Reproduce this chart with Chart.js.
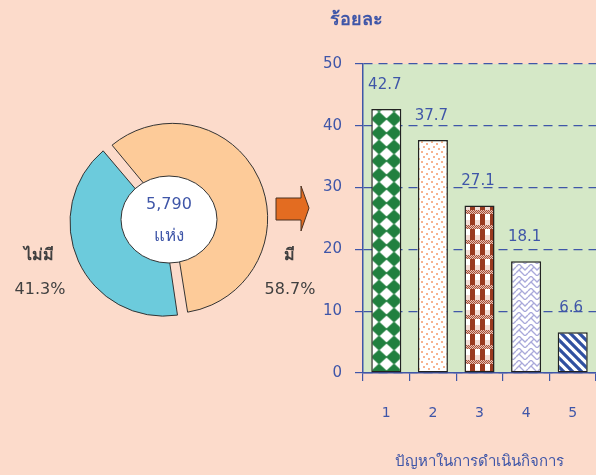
<!DOCTYPE html>
<html>
<head>
<meta charset="utf-8">
<script src="https://cdn.jsdelivr.net/npm/chart.js@4"></script>
<style>
  html, body { margin:0; padding:0; background:#FCDBCB; }
  #wrap { position:relative; width:596px; height:475px; overflow:hidden; background:#FCDBCB; }
  #pie { position:absolute; left:0; top:0; }
  #bar { position:absolute; left:300px; top:0; }
  #arrow { position:absolute; left:0; top:0; }
</style>
</head>
<body>
<div id="wrap">
  <canvas id="pie" width="330" height="475"></canvas>
  <svg id="arrow" width="596" height="475"><polygon points="276,198 301,198 301,186 309,208 301,231 301,220 276,220" fill="#E36C21" stroke="#4a3020" stroke-width="1"/></svg>
  <canvas id="bar" width="296" height="475"></canvas>
</div>
<script>
// ---- data ----
const pieLabels = ['มี', 'ไม่มี'];
const pieValues = [58.7, 41.3];
const totalText = ['5,790', 'แห่ง'];

const barCategories = ['1', '2', '3', '4', '5'];
const barValues = [42.7, 37.7, 27.1, 18.1, 6.6];
const yTicks = [0, 10, 20, 30, 40, 50];
const yTitle = 'ร้อยละ';
const xTitle = 'ปัญหาในการดำเนินกิจการ';

// ---- styles ----
const BLUE = '#3F56A8';
const GRAY = '#404040';
const FONT = "Tahoma, 'DejaVu Sans', 'Noto Sans', sans-serif";
Chart.defaults.font.family = FONT;

function makePattern(w, h, draw, tx, ty) {
  const c = document.createElement('canvas');
  c.width = w; c.height = h;
  const g = c.getContext('2d');
  draw(g, w, h);
  const p = g.createPattern(c, 'repeat');
  if (tx || ty) { try { p.setTransform(new DOMMatrix().translate(tx || 0, ty || 0)); } catch (e) {} }
  return p;
}
const patDiamond = makePattern(15, 14, (g, w, h) => {
  g.fillStyle = '#ffffff'; g.fillRect(0, 0, w, h);
  g.fillStyle = '#21803F';
  g.beginPath(); g.moveTo(w/2, -0.5); g.lineTo(w + 0.5, h/2); g.lineTo(w/2, h + 0.5); g.lineTo(-0.5, h/2); g.closePath(); g.fill();
}, 11.5, 0);
const patDots = makePattern(10, 10, (g, w, h) => {
  g.fillStyle = '#ffffff'; g.fillRect(0, 0, w, h);
  g.fillStyle = '#F59A6A';
  [[2,2],[7,4],[4,7],[9,9]].forEach(p => { g.beginPath(); g.arc(p[0], p[1], 1, 0, Math.PI*2); g.fill(); });
});
const patPlaid = makePattern(10, 15, (g, w, h) => {
  g.fillStyle = '#9A3A1F'; g.fillRect(0, 0, w, h);
  g.fillStyle = '#ffffff'; g.fillRect(5, 4, 5, 6);
  g.fillStyle = '#F3DDD5'; g.fillRect(5, 10, 5, 5);
  g.fillStyle = '#E6C2B4'; g.fillRect(0, 0, w, 4);
  g.fillStyle = '#A8503A';
  for (let x = 0; x < w; x += 1) for (let y = 0; y < 4; y += 1) { if ((x + y) % 2 === 0) g.fillRect(x, y, 1, 1); }
});
const patWeave = makePattern(12, 12, (g, w, h) => {
  g.fillStyle = '#ffffff'; g.fillRect(0, 0, w, h);
  g.strokeStyle = '#A9A9DA'; g.lineWidth = 1.3;
  g.beginPath();
  g.moveTo(0, 3); g.lineTo(3, 0); g.moveTo(3, 0); g.lineTo(9, 6); g.lineTo(12, 3);
  g.moveTo(0, 9); g.lineTo(3, 6); g.lineTo(9, 12);
  g.moveTo(9, 12); g.lineTo(12, 9);
  g.moveTo(6, 3); g.lineTo(3, 6);
  g.stroke();
});
const patStripes = makePattern(9, 9, (g, w, h) => {
  g.fillStyle = '#ffffff'; g.fillRect(0, 0, w, h);
  g.strokeStyle = '#3050A0'; g.lineWidth = 3.2;
  g.beginPath();
  for (let k = -9; k <= 9; k += 9) { g.moveTo(k - 1, -1); g.lineTo(k + 10, 10); }
  g.stroke();
});
const barFills = [patDiamond, patDots, patPlaid, patWeave, patStripes];

// ---- doughnut ----
const pieDecor = {
  id: 'pieDecor',
  afterDraw(chart) {
    const ctx = chart.ctx;
    const a = chart.chartArea;
    const cx = (a.left + a.right) / 2, cy = (a.top + a.bottom) / 2;
    ctx.save();
    ctx.beginPath();
    ctx.ellipse(cx, cy - 0.5, 48, 43.5, 0, 0, Math.PI * 2);
    ctx.fillStyle = '#ffffff'; ctx.fill();
    ctx.strokeStyle = '#333333'; ctx.lineWidth = 1; ctx.stroke();
    ctx.fillStyle = BLUE; ctx.textAlign = 'center'; ctx.textBaseline = 'middle';
    ctx.font = '16px ' + FONT;
    ctx.fillText(totalText[0], cx, cy - 15);
    ctx.font = '17px ' + FONT;
    ctx.fillText(totalText[1], cx, cy + 17);
    ctx.fillStyle = GRAY;
    ctx.font = 'bold 16px ' + FONT;
    ctx.fillText(pieLabels[1], cx - 130, cy + 36);
    ctx.fillText(pieLabels[0], cx + 120, cy + 36);
    ctx.font = '16px ' + FONT;
    ctx.fillText(pieValues[1].toFixed(1) + '%', cx - 129, cy + 70);
    ctx.fillText(pieValues[0].toFixed(1) + '%', cx + 121, cy + 70);
    ctx.restore();
  }
};
new Chart(document.getElementById('pie'), {
  type: 'doughnut',
  data: {
    labels: pieLabels,
    datasets: [{
      data: pieValues,
      backgroundColor: ['#FDCB99', '#6CCBDC'],
      borderColor: '#333333',
      borderWidth: 1,
      offset: [16, 23]
    }]
  },
  options: {
    responsive: false,
    animation: false,
    rotation: -40,
    radius: 91,
    cutout: 30,
    layout: { padding: { left: 69, right: 61, top: 120, bottom: 155 } },
    plugins: { legend: { display: false }, tooltip: { enabled: false } }
  },
  plugins: [pieDecor]
});

// ---- bar ----
const barDecor = {
  id: 'barDecor',
  beforeDraw(chart) {
    const a = chart.chartArea, ctx = chart.ctx;
    ctx.save();
    ctx.fillStyle = '#D5E8C7';
    ctx.fillRect(a.left, a.top, a.right - a.left, a.bottom - a.top);
    ctx.restore();
  },
  afterDatasetsDraw(chart) {
    const ctx = chart.ctx;
    const meta = chart.getDatasetMeta(0);
    ctx.save();
    ctx.fillStyle = BLUE; ctx.font = '15px ' + FONT;
    ctx.textAlign = 'center'; ctx.textBaseline = 'middle';
    meta.data.forEach((el, i) => {
      ctx.fillText(barValues[i].toFixed(1), el.x - 1.5, el.y - 24);
    });
    ctx.font = 'bold 18px ' + FONT;
    ctx.fillText(yTitle, chart.chartArea.left - 7, 20);
    ctx.restore();
  }
};
new Chart(document.getElementById('bar'), {
  type: 'bar',
  data: {
    labels: barCategories,
    datasets: [{
      data: barValues,
      backgroundColor: barFills,
      borderColor: '#222222',
      borderWidth: 1.5,
      borderSkipped: false,
      barPercentage: 0.645,
      categoryPercentage: 1
    }]
  },
  options: {
    responsive: false,
    animation: false,
    layout: { padding: { left: 0, right: 0, top: 64, bottom: 0 } },
    plugins: { legend: { display: false }, tooltip: { enabled: false } },
    scales: {
      x: {
        offset: true,
        grid: { offset: true, drawOnChartArea: false, drawTicks: true, tickLength: 8, color: BLUE, lineWidth: 1.2 },
        border: { display: true, color: BLUE, width: 1.5 },
        ticks: { color: BLUE, font: { size: 14 }, padding: 24 },
        title: { display: true, text: xTitle, color: BLUE, font: { size: 15 }, padding: { top: 0, bottom: 4 } },
        afterFit(s) { s.height = 102; s.paddingLeft = 0; s.paddingRight = 0; }
      },
      y: {
        min: 0, max: 50,
        afterBuildTicks(s) { s.ticks = yTicks.map(v => ({ value: v })); },
        ticks: { color: BLUE, font: { size: 15 }, padding: 13 },
        grid: { color: BLUE, lineWidth: 1.2, tickLength: 8 },
        border: { display: true, color: BLUE, width: 1.5, dash: [9, 6] },
        afterFit(s) { s.width = 63; s.paddingTop = 0; s.paddingBottom = 0; }
      }
    }
  },
  plugins: [barDecor]
});
</script>
</body>
</html>
